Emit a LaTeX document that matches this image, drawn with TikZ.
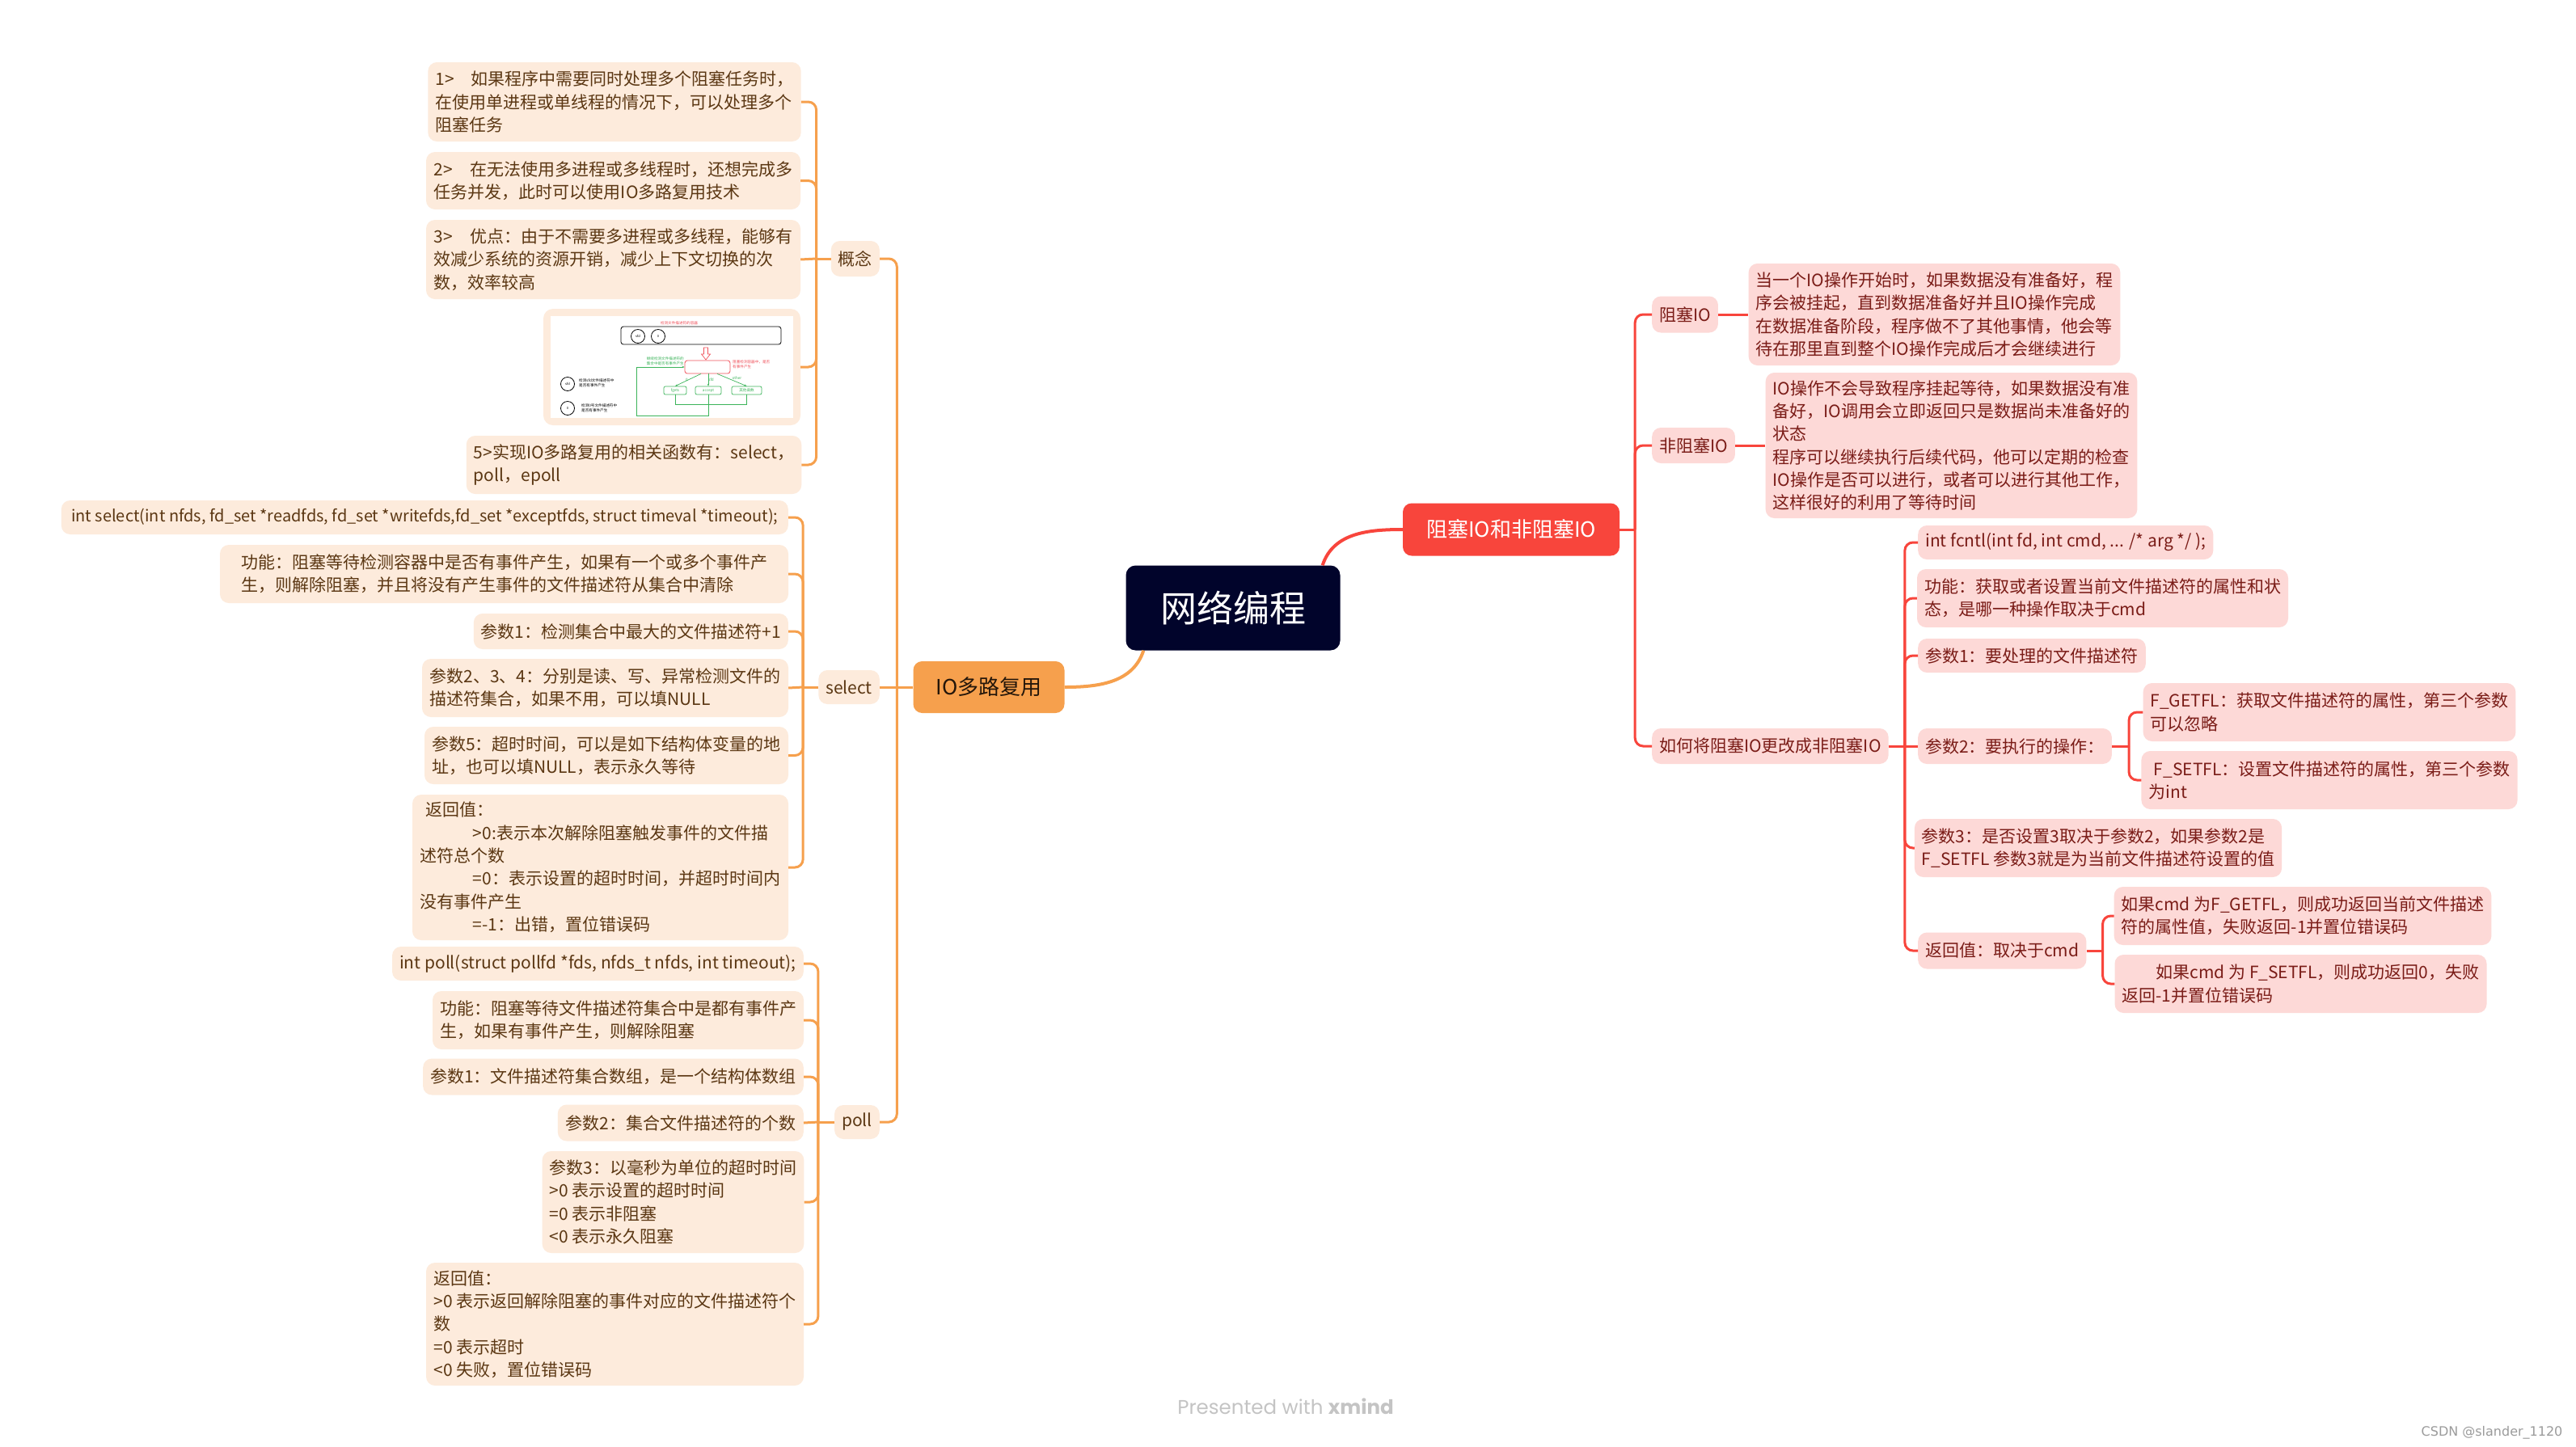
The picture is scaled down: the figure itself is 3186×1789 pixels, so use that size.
\documentclass[tikz,border=0pt]{standalone}
\usepackage{fontspec}
\setmainfont{Noto Sans CJK SC}
\newfontfamily\footfont{Poppins}
\newfontfamily\csdnfont{DejaVu Sans}
\usetikzlibrary{arrows.meta}
\definecolor{cNavy}{HTML}{01042B}
\definecolor{cOrg}{HTML}{F6A04D}
\definecolor{cOrgFill}{HTML}{FDEBDC}
\definecolor{cOrgText}{HTML}{5B3713}
\definecolor{cDark}{HTML}{24160A}
\definecolor{cRed}{HTML}{F8453C}
\definecolor{cRedFill}{HTML}{FDD9D7}
\definecolor{cRedText}{HTML}{7A1C17}
\definecolor{cFoot}{HTML}{C4C4C4}
\definecolor{cCsdn}{HTML}{9B9B9B}
\definecolor{cGreen}{HTML}{3CB45A}
\definecolor{cImgRed}{HTML}{F0505A}
\newcommand\fsm{\fontsize{21pt}{28.3pt}\selectfont}
\newcommand\fsmini{\fontsize{4.6pt}{5.6pt}\selectfont}
\tikzset{
  obox/.style={fill=cOrgFill, text=cOrgText, rounded corners=11pt, inner xsep=9pt, inner ysep=5pt, align=left, font=\fsm},
  rbox/.style={fill=cRedFill, text=cRedText, rounded corners=11pt, inner xsep=9pt, inner ysep=5pt, align=left, font=\fsm},
  olink/.style={draw=cOrg, line width=3pt, rounded corners=10pt},
  rlink/.style={draw=cRed, line width=3pt, rounded corners=10pt},
  grn/.style={draw=cGreen, line width=0.7pt},
  minitxt/.style={font=\fsmini, inner sep=0pt, align=left},
  gbox/.style={draw=cGreen, line width=0.7pt, rounded corners=2pt, minimum height=10pt, inner sep=0pt, font=\fsmini, text=cGreen},
  cir/.style={draw=black, line width=0.8pt, circle, minimum size=17pt, inner sep=0pt, font=\fontsize{4pt}{5pt}\selectfont},
}
\begin{document}
\begin{tikzpicture}[x=1pt,y=-1pt]
\useasboundingbox[fill=white] (0,0) rectangle (3186,1789);

% ---------- main nodes ----------
\node[fill=cNavy,text=white,rounded corners=12pt,minimum width=265pt,minimum height=105pt,inner sep=0pt,font=\fontsize{45pt}{50pt}\selectfont] (c) at (1525,752) {网络编程};
\node[fill=cRed,text=white,rounded corners=11pt,minimum width=268pt,minimum height=65pt,inner sep=0pt,font=\fontsize{26pt}{30pt}\selectfont] (r) at (1869,655) {阻塞IO和非阻塞IO};
\node[fill=cOrg,text=cDark,rounded corners=11pt,minimum width=187pt,minimum height=64pt,inner sep=0pt,font=\fontsize{26pt}{30pt}\selectfont] (l) at (1223,850) {IO多路复用};

\draw[rlink,line width=4pt] ([xshift=-22pt]c.north east) to[out=72,in=180] (r.west);
\draw[olink,line width=4pt] ([xshift=22pt]c.south west) to[out=-108,in=0] (l.east);

% ---------- left: level 1 ----------
\node[obox,anchor=east,minimum width=59pt,minimum height=44pt] (gn) at (1088,320) {概念};
\node[obox,anchor=east,minimum width=73pt,minimum height=42pt] (sel) at (1088,850) {select};
\node[obox,anchor=east,minimum width=54pt,minimum height=42pt] (pol) at (1088,1388) {poll};

\coordinate (lj) at ([xshift=-20pt]l.west);
\draw[olink] (l.west) -- (lj);
\draw[olink] (lj) |- (gn.east);
\draw[olink] (lj) -- (sel.east);
\draw[olink] (lj) |- (pol.east);

% ---------- 概念 ----------
\node[obox,minimum width=460pt,minimum height=98pt] (k1) at (760,126) {1>\hspace{1em}如果程序中需要同时处理多个阻塞任务时，\\在使用单进程或单线程的情况下，可以处理多个\\阻塞任务};
\node[obox,minimum width=463pt,minimum height=71pt] (k2) at (758.5,223.5) {2>\hspace{1em}在无法使用多进程或多线程时，还想完成多\\任务并发，此时可以使用IO多路复用技术};
\node[obox,minimum width=463pt,minimum height=98pt] (k3) at (758.5,321) {3>\hspace{1em}优点：由于不需要多进程或多线程，能够有\\效减少系统的资源开销，减少上下文切换的次\\数，效率较高};
\node[fill=cOrgFill,rounded corners=12pt,minimum width=318pt,minimum height=144pt,inner sep=0pt] (k4) at (831,454) {};
\node[obox,minimum width=412pt,minimum height=72pt] (k5) at (784,575) {5>实现IO多路复用的相关函数有：select，\\poll，epoll};

\coordinate (gj) at ([xshift=-18pt]gn.west);
\draw[olink] (gn.west) -- (gj);
\foreach \n in {k1,k2,k4,k5} \draw[olink] (gj) |- (\n.east);
\draw[olink] (gj) -- (k3.east);

% ---------- image inside k4 ----------
\fill[white] (681,391) rectangle (981,517);
\node[minitxt,text=cImgRed] (imgt) at (840,400) {检测文件描述符的容器};
\draw[line width=0.8pt,rounded corners=3pt] (768,404) rectangle (966,426);
\node[cir] (ci1) at (789,416) {sfd};
\node[cir] (ci2) at (814,416) {0};
\draw[cImgRed,line width=0.7pt,fill=white] (870.5,430) -- (875.5,430) -- (875.5,438) -- (878.5,438) -- (873,445) -- (867.5,438) -- (870.5,438) -- cycle;
\node[draw=cImgRed,line width=0.8pt,rounded corners=3pt,minimum width=56pt,minimum height=16pt,inner sep=0pt] (rr) at (875,454) {};
\node[minitxt,text=cImgRed,anchor=west] (rrt) at (906,451) {阻塞检测容器中，是否\\有事件产生};
\node[minitxt,text=cGreen,anchor=south east] (glt) at (846,452) {继续检测文件描述符的\\集合中是否有事件产生};
\node[gbox,minimum width=28pt] (g0) at (835,483) {fgets};
\node[gbox,minimum width=32pt] (g1) at (876,483) {accept};
\node[gbox,minimum width=37pt] (g2) at (923.5,483) {其他函数};
\draw[grn,-{Stealth[length=3pt]}] ([xshift=-8pt]rr.south) -- (g0.north) node[midway,left,minitxt,text=cGreen] {0};
\draw[grn,-{Stealth[length=3pt]}] (rr.south) ++(1pt,0) -- (g1.north) node[midway,right,minitxt,text=cGreen] {sfd};
\draw[grn,-{Stealth[length=3pt]}] ([xshift=12pt]rr.south) -- (g2.north) node[midway,above right,minitxt,text=cGreen] {other};
\coordinate (lp) at (787,514);
\draw[grn,-{Stealth[length=3pt]}] (g1.south) |- (lp) |- (rr.west);
\draw[grn] (g0.south) -- ++(0,12) -| (g2.south);
\node[cir] (lc1) at (702,475) {sfd};
\node[minitxt,anchor=west] (lt1) at (716,474) {检测sfd文件描述符中\\是否有事件产生};
\node[cir] (lc2) at (702,505) {0};
\node[minitxt,anchor=west] (lt2) at (719,505) {检测0号文件描述符中\\是否有事件产生};

% ---------- select ----------
\node[obox,anchor=east,minimum width=899pt,minimum height=42pt,font=\fontsize{20pt}{27pt}\selectfont] (s1) at (975,640) {int select(int nfds, fd\_set *readfds, fd\_set *writefds,fd\_set *exceptfds, struct timeval *timeout);};
\node[obox,minimum width=703pt,minimum height=72pt] (s2) at (623.5,710) {功能：阻塞等待检测容器中是否有事件产生，如果有一个或多个事件产\\生，则解除阻塞，并且将没有产生事件的文件描述符从集合中清除};
\node[obox,anchor=east,minimum width=384pt,minimum height=44pt] (s3) at (975,781) {参数1：检测集合中最大的文件描述符+1};
\node[obox,minimum width=453pt,minimum height=72pt] (s4) at (748.5,851) {参数2、3、4：分别是读、写、异常检测文件的\\描述符集合，如果不用，可以填NULL};
\node[obox,minimum width=450pt,minimum height=71pt] (s5) at (750,934.5) {参数5：超时时间，可以是如下结构体变量的地\\址，也可以填NULL，表示永久等待};
\node[obox,minimum width=465pt,minimum height=180pt] (s6) at (742.5,1073) {\hspace*{0.3em}返回值：\\\hspace*{3.1em}>0:表示本次解除阻塞触发事件的文件描\\述符总个数\\\hspace*{3.1em}=0：表示设置的超时时间，并超时时间内\\没有事件产生\\\hspace*{3.1em}=-1：出错，置位错误码};

\coordinate (sj) at ([xshift=-19pt]sel.west);
\draw[olink] (sel.west) -- (sj);
\foreach \n in {s1,s2,s3,s5,s6} \draw[olink] (sj) |- (\n.east);
\draw[olink] (sj) -- (s4.east);

% ---------- poll ----------
\node[obox,anchor=east,minimum width=503pt,minimum height=42pt] (p1) at (994,1192) {int poll(struct pollfd *fds, nfds\_t nfds, int timeout);};
\node[obox,minimum width=459pt,minimum height=72pt] (p2) at (764.5,1262) {功能：阻塞等待文件描述符集合中是都有事件产\\生，如果有事件产生，则解除阻塞};
\node[obox,anchor=east,minimum width=467pt,minimum height=45pt] (p3) at (994,1332) {参数1：文件描述符集合数组，是一个结构体数组};
\node[obox,anchor=east,minimum width=304pt,minimum height=45pt] (p4) at (994,1389) {参数2：集合文件描述符的个数};
\node[obox,minimum width=323pt,minimum height=126pt] (p5) at (832.5,1487) {参数3：以毫秒为单位的超时时间\\>0 表示设置的超时时间\\=0 表示非阻塞\\<0 表示永久阻塞};
\node[obox,minimum width=467pt,minimum height=152pt] (p6) at (760.5,1638) {返回值：\\>0 表示返回解除阻塞的事件对应的文件描述符个\\数\\=0 表示超时\\<0 失败，置位错误码};

\coordinate (pj) at ([xshift=-20pt]pol.west);
\draw[olink] (pol.west) -- (pj);
\foreach \n in {p1,p2,p3,p5,p6} \draw[olink] (pj) |- (\n.east);
\draw[olink] (pj) -- (p4.east);

% ---------- right side ----------
\node[rbox,anchor=west,minimum width=80pt,minimum height=45pt] (b1) at (2043,389) {阻塞IO};
\node[rbox,anchor=west,minimum width=102pt,minimum height=44pt] (b2) at (2043,551) {非阻塞IO};
\node[rbox,anchor=west,minimum width=288pt,minimum height=44pt] (b3) at (2043,923) {如何将阻塞IO更改成非阻塞IO};

\coordinate (rj) at ([xshift=19pt]r.east);
\draw[rlink] (r.east) -- (rj);
\foreach \n in {b1,b2,b3} \draw[rlink] (rj) |- (\n.west);

\node[rbox,minimum width=459pt,minimum height=126pt] (bt1) at (2392.5,389) {当一个IO操作开始时，如果数据没有准备好，程\\序会被挂起，直到数据准备好并且IO操作完成\\在数据准备阶段，程序做不了其他事情，他会等\\待在那里直到整个IO操作完成后才会继续进行};
\node[rbox,minimum width=459pt,minimum height=180pt] (bt2) at (2413.5,551) {IO操作不会导致程序挂起等待，如果数据没有准\\备好，IO调用会立即返回只是数据尚未准备好的\\状态\\程序可以继续执行后续代码，他可以定期的检查\\IO操作是否可以进行，或者可以进行其他工作，\\这样很好的利用了等待时间};
\draw[rlink] (b1.east) -- (bt1.west);
\draw[rlink] (b2.east) -- (bt2.west);

\node[rbox,anchor=west,minimum width=339pt,minimum height=42pt] (f1) at (2372,671) {int fcntl(int fd, int cmd, ... /* arg */ );};
\node[rbox,minimum width=457pt,minimum height=72pt] (f2) at (2600.5,740) {功能：获取或者设置当前文件描述符的属性和状\\态，是哪一种操作取决于cmd};
\node[rbox,anchor=west,minimum width=278pt,minimum height=42pt] (f3) at (2372,811) {参数1：要处理的文件描述符};
\node[rbox,anchor=west,minimum width=239pt,minimum height=44pt] (f4) at (2372,923) {参数2：要执行的操作：};
\node[rbox,minimum width=446pt,minimum height=72pt] (f5) at (2595,1049) {参数3：是否设置3取决于参数2，如果参数2是\\F\_SETFL 参数3就是为当前文件描述符设置的值};
\node[rbox,anchor=west,minimum width=205pt,minimum height=45pt] (f6) at (2372,1176) {返回值：取决于cmd};

\coordinate (b3j) at ([xshift=20pt]b3.east);
\draw[rlink] (b3.east) -- (b3j);
\foreach \n in {f1,f2,f3,f5,f6} \draw[rlink] (b3j) |- (\n.west);
\draw[rlink] (b3j) -- (f4.west);

\node[rbox,minimum width=456pt,minimum height=72pt] (g1) at (2881,881) {F\_GETFL：获取文件描述符的属性，第三个参数\\可以忽略};
\node[rbox,minimum width=456pt,minimum height=72pt] (g2) at (2881,965) {\hspace*{0.3em}F\_SETFL：设置文件描述符的属性，第三个参数\\为int};
\coordinate (f4j) at ([xshift=21pt]f4.east);
\draw[rlink] (f4.east) -- (f4j);
\draw[rlink] (f4j) |- (g1.west);
\draw[rlink] (f4j) |- (g2.west);

\node[rbox,minimum width=460pt,minimum height=72pt] (h1) at (2848,1133) {如果cmd 为F\_GETFL，则成功返回当前文件描述\\符的属性值，失败返回-1并置位错误码};
\node[rbox,minimum width=455pt,minimum height=72pt] (h2) at (2845.5,1217) {\hspace*{2em}如果cmd 为 F\_SETFL，则成功返回0，失败\\返回-1并置位错误码};
\coordinate (f6j) at ([xshift=20pt]f6.east);
\draw[rlink] (f6.east) -- (f6j);
\draw[rlink] (f6j) |- (h1.west);
\draw[rlink] (f6j) |- (h2.west);

% ---------- footer ----------
\node[font=\footfont\fontsize{24.5pt}{28pt}\selectfont,text=cFoot] (foot) at (1590,1740) {Presented with \textbf{xmind}};
\node[font=\csdnfont\fontsize{16pt}{19pt}\selectfont,text=cCsdn] (csdn) at (3082,1772) {CSDN @slander\_1120};
\end{tikzpicture}
\end{document}
